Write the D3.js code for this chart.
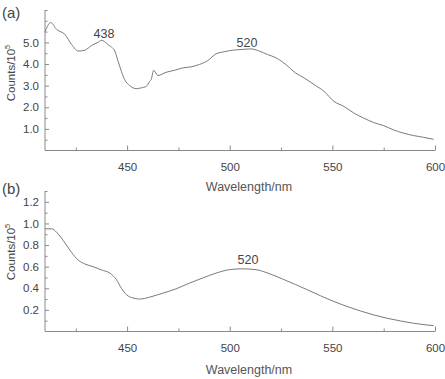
<!DOCTYPE html>
<html><head><meta charset="utf-8">
<script src="https://cdn.jsdelivr.net/npm/d3@7"></script>
<style>body{margin:0;background:#fff}svg{display:block;font-family:"Liberation Sans",Arial,sans-serif}</style>
</head><body><div id="c"></div>
<script>
// Panel (a): wavelength (nm) and counts (x10^5)
const waveA = [410,412.8,415.7,419.7,423,426.2,429.4,432.7,435.9,437.5,440.7,444,445.6,447.2,448.8,451.3,454.5,456.9,459.4,461,461.8,462.9,465,469,473.1,477.1,481.2,485.2,489.3,493.3,497.4,501.4,505.5,510.3,514.4,518.4,522.5,527.3,532,536.2,541.1,545.9,550.8,555.6,560.5,565.3,570.2,575,579.9,584.8,589.6,594.4,599.3];
const countsA = [5.49,5.92,5.6,5.37,4.9,4.6,4.64,4.86,5.01,5.1,4.9,4.6,4.13,3.67,3.28,3.0,2.86,2.9,2.97,3.2,3.3,3.71,3.47,3.62,3.71,3.82,3.87,3.98,4.16,4.47,4.57,4.64,4.67,4.7,4.6,4.44,4.29,3.98,3.59,3.36,3.05,2.74,2.27,2.04,1.73,1.5,1.29,1.15,0.95,0.8,0.69,0.61,0.52];
// Panel (b)
const waveB = [410,413.2,416.5,419.7,423,426.2,429.4,433.4,437.5,441.6,444.8,447.2,449.7,452.9,456.1,461,467.4,473.9,480.4,486.8,493.3,499.8,506.3,512.8,519.3,525.7,532,537.8,544.3,550.8,557.2,563.7,570.2,576.6,583.1,589.6,596.1,599.3];
const countsB = [0.95,0.95,0.9,0.82,0.73,0.66,0.625,0.6,0.57,0.54,0.48,0.40,0.34,0.31,0.30,0.318,0.355,0.395,0.448,0.495,0.54,0.572,0.58,0.572,0.535,0.486,0.435,0.386,0.33,0.277,0.231,0.19,0.153,0.123,0.098,0.076,0.06,0.054];
const xTicks = [450,500,550,600];
const yTicksA = [1.0,2.0,3.0,4.0,5.0];
const yTicksB = [0.2,0.4,0.6,0.8,1.0,1.2];
const panelLabels = ["(a)","(b)"];
const peaksA = [{w:438,label:"438"},{w:520,label:"520"}];
const peaksB = [{w:520,label:"520"}];

const W=445,H=379;
const svg=d3.select("#c").append("svg").attr("width",W).attr("height",H);
const axisColor="#8a8a8a", lineColor="#7a7a7a", textColor="#444";

function panel(cfg){
  const g=svg.append("g");
  const x=d3.scaleLinear().domain([410,600]).range([45,435]);
  const y=d3.scaleLinear().domain([0,cfg.ymax]).range([cfg.base,cfg.base-140.5]);
  // x axis
  const xa=d3.axisBottom(x).tickValues(xTicks).tickSize(-5).tickPadding(12).tickFormat(d3.format("d"));
  const gx=g.append("g").attr("transform",`translate(0,${cfg.base})`).call(xa);
  gx.select(".domain").attr("stroke",axisColor).attr("d",`M45,0H435`);
  gx.selectAll(".tick line").attr("stroke",axisColor);
  gx.selectAll(".tick text").attr("fill",textColor).attr("font-size",11.5);
  const xm=d3.axisBottom(x).tickValues([425,475,525,575]).tickSize(-3).tickFormat("");
  const gxm=g.append("g").attr("transform",`translate(0,${cfg.base})`).call(xm);
  gxm.select(".domain").remove();
  gxm.selectAll(".tick line").attr("stroke",axisColor);
  // y axis
  const ya=d3.axisLeft(y).tickValues(cfg.yt).tickSize(-4).tickPadding(6).tickFormat(d3.format(".1f"));
  const gy=g.append("g").attr("transform",`translate(45,0)`).call(ya);
  gy.select(".domain").attr("stroke",axisColor).attr("d",`M0,${y(cfg.ymax)}V${cfg.base}`);
  gy.selectAll(".tick line").attr("stroke",axisColor);
  gy.selectAll(".tick text").attr("fill",textColor).attr("font-size",11.5);
  const ym=d3.axisLeft(y).tickValues(cfg.ymin).tickSize(-2.5).tickFormat("");
  const gym=g.append("g").attr("transform",`translate(45,0)`).call(ym);
  gym.select(".domain").remove();
  gym.selectAll(".tick line").attr("stroke",axisColor);
  // curve
  const line=d3.line().x(d=>x(d[0])).y(d=>y(d[1])).curve(d3.curveMonotoneX);
  g.append("path").datum(cfg.w.map((w,i)=>[w,cfg.c[i]])).attr("d",line)
    .attr("fill","none").attr("stroke",lineColor).attr("stroke-width",1);
  // peak labels
  cfg.peaks.forEach((p,i)=>{
    g.append("text").attr("x",cfg.px[i]).attr("y",cfg.py[i]).attr("text-anchor","middle")
      .attr("font-size",12.5).attr("fill",textColor).text(p.label);
  });
  // panel label
  g.append("text").attr("x",2).attr("y",cfg.ly).attr("font-size",15).attr("fill",textColor).text(cfg.label);
  // y label
  const yl=g.append("text").attr("transform",`translate(15,${cfg.ylc}) rotate(-90)`).attr("text-anchor","middle")
    .attr("font-size",11.5).attr("fill",textColor);
  yl.append("tspan").text("Counts/10");
  yl.append("tspan").attr("font-size",7.5).attr("dy",-5).text("5");
  // x label
  g.append("text").attr("x",249).attr("y",cfg.xly).attr("text-anchor","middle")
    .attr("font-size",12.5).attr("fill","#555").text("Wavelength/nm");
}
const minorA=d3.range(0.5,6.51,0.5).filter(v=>Math.abs(v-Math.round(v))>0.01||v>5.5);
const minorB=d3.range(0.1,1.31,0.1).filter(v=>Math.round(v*10)%2===1||v>1.25);
panel({base:150.5,ymax:6.5,yt:yTicksA,ymin:minorA,w:waveA,c:countsA,peaks:peaksA,px:[104,247],py:[38,47],label:panelLabels[0],ly:18,ylc:73,xly:191});
panel({base:331.5,ymax:1.3,yt:yTicksB,ymin:minorB,w:waveB,c:countsB,peaks:peaksB,px:[248],py:[264],label:panelLabels[1],ly:194,ylc:252,xly:374});
</script></body></html>
